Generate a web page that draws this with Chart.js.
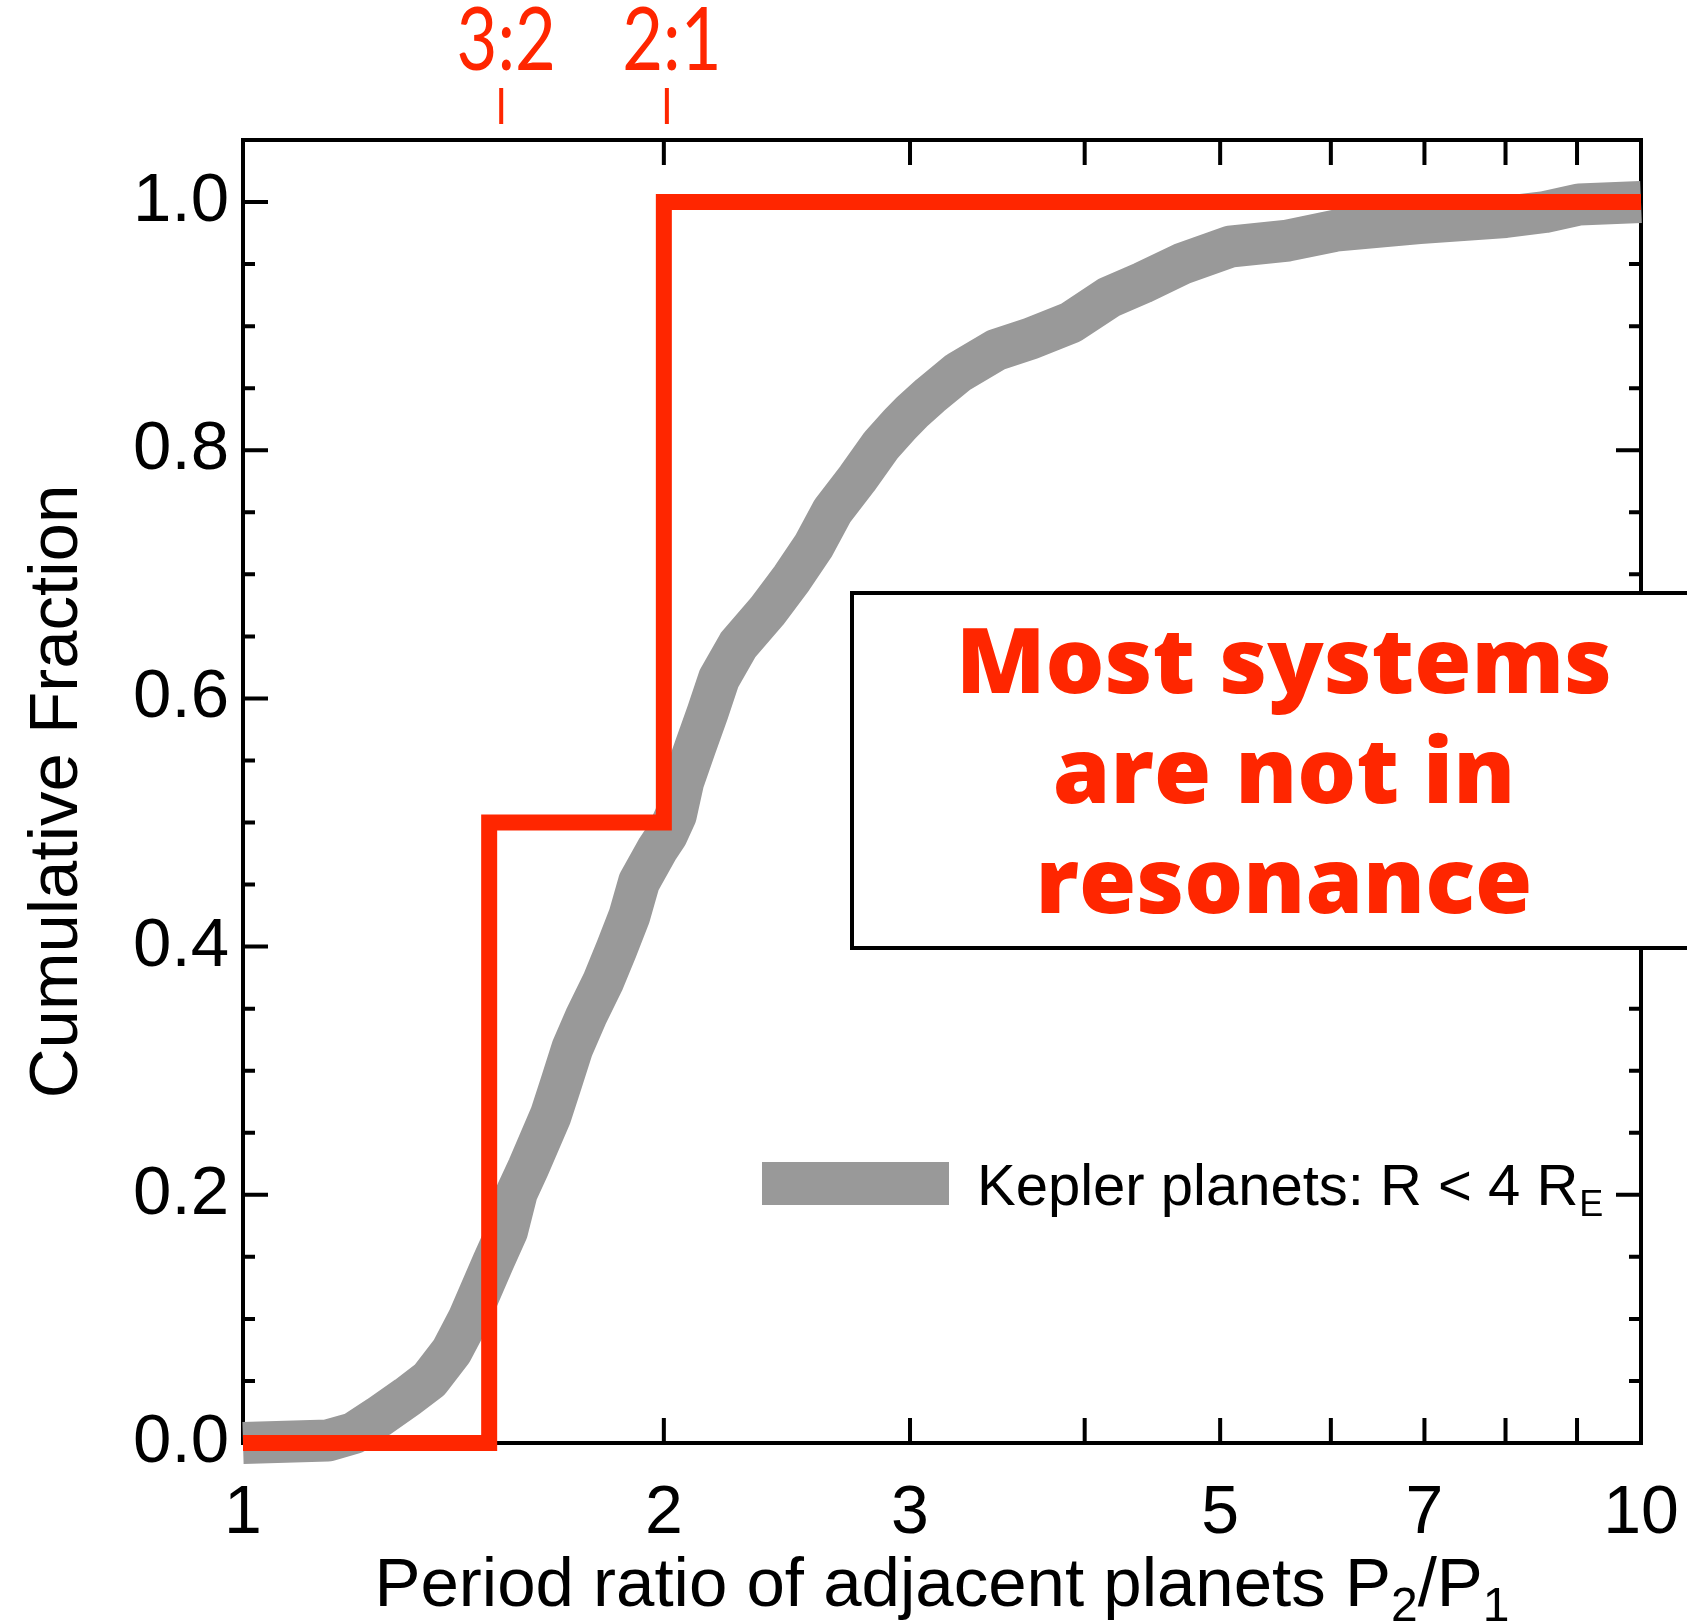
<!DOCTYPE html>
<html>
<head>
<meta charset="utf-8">
<script src="https://cdn.jsdelivr.net/npm/chart.js@4.4.1/dist/chart.umd.min.js"></script>
<style>
  html, body { margin: 0; padding: 0; background: #fff; }
  canvas { display: block; }
</style>
</head>
<body>
<canvas id="cdfChart" width="1687" height="1623"></canvas>
<script>
// Kepler planets R < 4 RE, cumulative fraction
const keplerRatio = [1.00, 1.15, 1.20, 1.25, 1.31, 1.36, 1.41, 1.45, 1.51, 1.545, 1.57, 1.60, 1.66, 1.69,
  1.72, 1.76, 1.81, 1.85, 1.89, 1.92, 1.98, 2.01, 2.04, 2.065, 2.105, 2.15, 2.19, 2.26, 2.37, 2.47,
  2.56, 2.64, 2.75, 2.86, 2.95, 3.01, 3.10, 3.25, 3.46, 3.66, 3.91, 4.16, 4.40, 4.69, 5.08, 5.59,
  6.05, 6.94, 8.00, 8.54, 9.03, 10.0];
const keplerFrac = [0.000, 0.002, 0.008, 0.021, 0.037, 0.051, 0.074, 0.100, 0.146, 0.171, 0.202, 0.222, 0.264, 0.291,
  0.318, 0.344, 0.372, 0.398, 0.425, 0.452, 0.479, 0.490, 0.506, 0.533, 0.560, 0.589, 0.616, 0.643, 0.670, 0.697,
  0.723, 0.751, 0.777, 0.804, 0.821, 0.831, 0.844, 0.863, 0.881, 0.890, 0.903, 0.923, 0.935, 0.950, 0.964, 0.969,
  0.977, 0.983, 0.988, 0.992, 0.998, 1.000];

// all-resonant model: half at 3:2, half at 2:1
const stepRatio = [1, 1.5, 2, 10];
const stepFrac = [0, 0.5, 1, 1];

// axes
const xTicks = [1, 2, 3, 4, 5, 6, 7, 8, 9, 10];
const xTickLabels = [1, 2, 3, 5, 7, 10];
const yTicks = [0, 0.2, 0.4, 0.6, 0.8, 1.0];
const yMinorStep = 0.05;

// resonance markers above the plot
const resonanceLabels = ["3:2", "2:1"];
const resonanceRatio = [1.53, 2.01];

const boxLines = ["Most systems", "are not in", "resonance"];

const RED = "#ff2600";
const GRAY = "#999999";
const FONT = "'Liberation Sans', Arial, Helvetica, sans-serif";

const decorations = {
  id: "decorations",
  beforeDatasetsDraw(chart) {
    const { ctx, chartArea: a, scales: { x, y } } = chart;
    ctx.save();
    ctx.strokeStyle = "#000";
    ctx.lineWidth = 4;
    ctx.beginPath();
    xTicks.forEach(v => {
      if (v === 1 || v === 10) return;
      const px = x.getPixelForValue(v);
      ctx.moveTo(px, a.bottom); ctx.lineTo(px, a.bottom - 25);
      ctx.moveTo(px, a.top); ctx.lineTo(px, a.top + 25);
    });
    for (let k = 1; k * yMinorStep < 1.05 - 1e-9; k++) {
      const v = k * yMinorStep;
      const major = yTicks.some(t => Math.abs(t - v) < 1e-6);
      const len = major ? 25 : 12;
      const py = y.getPixelForValue(v);
      ctx.moveTo(a.left, py); ctx.lineTo(a.left + len, py);
      ctx.moveTo(a.right, py); ctx.lineTo(a.right - len, py);
    }
    ctx.stroke();
    ctx.strokeRect(a.left, a.top, a.width, a.height);
    ctx.restore();
  },
  afterDatasetsDraw(chart) {
    const { ctx, chartArea: a, scales: { x } } = chart;
    ctx.save();

    // resonance labels + marks (narrow, tall lettering)
    ctx.fillStyle = RED;
    ctx.strokeStyle = RED;
    ctx.lineWidth = 4;
    ctx.font = "400 88px Lato, sans-serif";
    ctx.textAlign = "center";
    ctx.textBaseline = "alphabetic";
    resonanceLabels.forEach((lab, i) => {
      const px = x.getPixelForValue(resonanceRatio[i]);
      ctx.save();
      ctx.translate(px + 5, 70);
      ctx.scale(0.8, 1);
      ctx.fillText(lab, 0, 0);
      ctx.restore();
      ctx.beginPath();
      ctx.moveTo(px, 88); ctx.lineTo(px, 124);
      ctx.stroke();
    });

    // text box
    ctx.fillStyle = "#fff";
    ctx.fillRect(852, 593, 900, 355);
    ctx.strokeStyle = "#000";
    ctx.lineWidth = 4;
    ctx.strokeRect(852, 593, 900, 355);
    ctx.fillStyle = RED;
    ctx.font = "800 90px 'Open Sans', sans-serif";
    const sx = 656 / ctx.measureText(boxLines[0]).width;
    boxLines.forEach((line, i) => {
      ctx.save();
      ctx.translate(1284, 693 + i * 110);
      ctx.scale(sx, 1);
      ctx.fillText(line, 0, 0);
      ctx.restore();
    });

    // legend
    ctx.fillStyle = GRAY;
    ctx.fillRect(762, 1162, 187, 43);
    ctx.fillStyle = "#000";
    ctx.textAlign = "left";
    ctx.font = "58px " + FONT;
    const legText = "Kepler planets: R < 4 R";
    ctx.fillText(legText, 977, 1205);
    const lw = ctx.measureText(legText).width;
    ctx.font = "36px " + FONT;
    ctx.fillText("E", 977 + lw + 1, 1216);

    // x title with subscripts
    const parts = [
      ["Period ratio of adjacent planets P", 69, 0],
      ["2", 48, 15],
      ["/P", 69, 0],
      ["1", 48, 15]
    ];
    let total = 0;
    parts.forEach(p => { ctx.font = p[1] + "px " + FONT; total += ctx.measureText(p[0]).width; });
    let cx = (a.left + a.right) / 2 - total / 2;
    parts.forEach(p => {
      ctx.font = p[1] + "px " + FONT;
      ctx.fillText(p[0], cx, 1606 + p[2]);
      cx += ctx.measureText(p[0]).width;
    });

    // y title
    ctx.translate(77, (a.top + a.bottom) / 2);
    ctx.rotate(-Math.PI / 2);
    ctx.textAlign = "center";
    ctx.font = "69px " + FONT;
    ctx.fillText("Cumulative Fraction", 0, 0);
    ctx.restore();
  }
};

new Chart(document.getElementById("cdfChart").getContext("2d"), {
  type: "scatter",
  data: {
    datasets: [
      {
        label: "Resonant",
        data: stepRatio.map((v, i) => ({ x: v, y: stepFrac[i] })),
        showLine: true,
        stepped: "before",
        borderColor: RED,
        borderWidth: 16,
        borderJoinStyle: "miter",
        borderCapStyle: "butt",
        pointRadius: 0,
        clip: false
      },
      {
        label: "Kepler planets: R < 4 RE",
        data: keplerRatio.map((v, i) => ({ x: v, y: keplerFrac[i] })),
        showLine: true,
        borderColor: GRAY,
        borderWidth: 42,
        borderJoinStyle: "round",
        borderCapStyle: "butt",
        pointRadius: 0,
        clip: false
      }
    ]
  },
  options: {
    responsive: false,
    animation: false,
    devicePixelRatio: 1,
    layout: { padding: { top: 140, right: 46, left: 0, bottom: 0 } },
    plugins: { legend: { display: false }, tooltip: { enabled: false } },
    scales: {
      x: {
        type: "logarithmic",
        min: 1,
        max: 10,
        grid: { display: false },
        border: { display: false },
        afterBuildTicks: s => { s.ticks = xTicks.map(v => ({ value: v })); },
        afterFit: s => { s.height = 180; s.paddingLeft = 0; s.paddingRight = 0; },
        ticks: {
          autoSkip: false,
          maxRotation: 0,
          padding: 22,
          color: "#000",
          font: { family: FONT, size: 68 },
          callback: v => (xTickLabels.includes(v) ? String(v) : "")
        }
      },
      y: {
        type: "linear",
        min: 0,
        max: 1.05,
        grid: { display: false },
        border: { display: false },
        afterBuildTicks: s => { s.ticks = yTicks.map(v => ({ value: v })); },
        afterFit: s => { s.width = 243; s.paddingTop = 0; s.paddingBottom = 0; },
        ticks: {
          padding: 6,
          color: "#000",
          font: { family: FONT, size: 69 },
          callback: v => v.toFixed(1)
        }
      }
    }
  },
  plugins: [decorations]
});
</script>
</body>
</html>
